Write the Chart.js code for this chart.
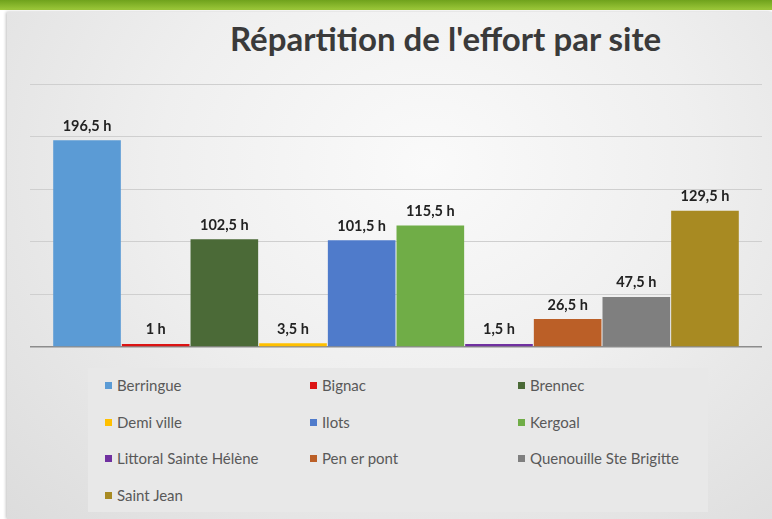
<!DOCTYPE html>
<html lang="fr">
<head>
<meta charset="UTF-8">
<title>Répartition de l'effort par site</title>
<script src="https://cdn.jsdelivr.net/npm/chart.js"></script>
<style>
html, body { margin: 0; padding: 0; }
body { width: 772px; height: 519px; position: relative; overflow: hidden; background: #fff; font-family: Lato, "Open Sans", sans-serif; }
#band { position: absolute; left: 0; top: 0; width: 772px; height: 10px; background: linear-gradient(#6fa21c, #9cc83a); }
#card { position: absolute; left: 7px; top: 12px; width: 765px; height: 507px;
  background: radial-gradient(ellipse at 55% 30%, #fafafa 0%, #efefef 45%, #dcdcdc 100%);
  box-shadow: -1px 0 3px rgba(0,0,0,0.25); }
#title { position: absolute; left: 230px; top: 18px; width: 442px; white-space: nowrap;
  font: bold 33px Lato, sans-serif; color: #3a3a3a; transform-origin: left top; }
#legend { position: absolute; left: 88px; top: 368px; width: 620px; height: 144px; background: #e8e8e8; }
.item { position: absolute; font-size: 15px; color: #595959; line-height: 18px; white-space: nowrap; }
.item span.box { display: inline-block; width: 7px; height: 7px; margin-right: 5px; vertical-align: 2px; }
#chart { position: absolute; left: 0; top: 0; }
</style>
</head>
<body>
<div id="band"></div>
<div id="card"></div>
<div id="title">Répartition de l'effort par site</div>
<div id="legend"></div>
<canvas id="chart" width="772" height="519"></canvas>
<script>
var sites = ['Berringue', 'Bignac', 'Brennec', 'Demi ville', 'Ilots', 'Kergoal',
  'Littoral Sainte Hélène', 'Pen er pont', 'Quenouille Ste Brigitte', 'Saint Jean'];
var hours = [196.5, 1, 102.5, 3.5, 101.5, 115.5, 1.5, 26.5, 47.5, 129.5];
var colors = ['#5b9bd5', '#dc1414', '#4b6a37', '#ffc000', '#4f7bcb', '#70ad47',
  '#7030a0', '#bb5f27', '#7f7f7f', '#a88a22'];
var yTicks = [0, 50, 100, 150, 200, 250];

// fit the title to its width in the picture
var t = document.getElementById('title');
var w = t.scrollWidth;
t.style.transform = 'scaleX(' + (442 / w) + ')';

// legend in 3 columns
var legend = document.getElementById('legend');
var colX = [17, 222, 430];
sites.forEach(function (s, i) {
  var d = document.createElement('div');
  d.className = 'item';
  d.style.left = colX[i % 3] + 'px';
  d.style.top = (8 + Math.floor(i / 3) * 36.5) + 'px';
  d.innerHTML = '<span class="box" style="background:' + colors[i] + '"></span>' + s;
  legend.appendChild(d);
});

var valueLabels = {
  id: 'valueLabels',
  afterDatasetsDraw: function (chart) {
    var ctx = chart.ctx;
    ctx.save();
    ctx.font = 'bold 14.5px Lato, sans-serif';
    ctx.fillStyle = '#222';
    ctx.textAlign = 'center';
    ctx.textBaseline = 'bottom';
    chart.data.datasets.forEach(function (ds, i) {
      var bar = chart.getDatasetMeta(i).data[0];
      ctx.fillText(String(ds.data[0]).replace('.', ',') + ' h', bar.x, bar.y - 7);
    });
    ctx.restore();
  }
};

new Chart(document.getElementById('chart'), {
  type: 'bar',
  data: {
    labels: [''],
    datasets: sites.map(function (s, i) {
      return {
        label: s,
        data: [hours[i]],
        backgroundColor: colors[i],
        borderWidth: 0,
        minBarLength: 3,
        categoryPercentage: 0.938,
        barPercentage: 0.985
      };
    })
  },
  options: {
    responsive: false,
    animation: false,
    layout: { padding: { top: 84, left: 30, right: 10, bottom: 172 } },
    plugins: { legend: { display: false }, tooltip: { enabled: false } },
    scales: {
      x: { display: false },
      y: {
        min: 0, max: 250,
        afterBuildTicks: function (axis) { axis.ticks = yTicks.map(function (v) { return { value: v }; }); },
        ticks: { display: false },
        border: { display: false },
        grid: {
          drawTicks: false,
          color: function (c) { return c.tick && c.tick.value === 0 ? '#8c8c8c' : '#cfcfcf'; },
          lineWidth: function (c) { return c.tick && c.tick.value === 0 ? 1.5 : 1; }
        }
      }
    }
  },
  plugins: [valueLabels]
});
</script>
</body>
</html>
